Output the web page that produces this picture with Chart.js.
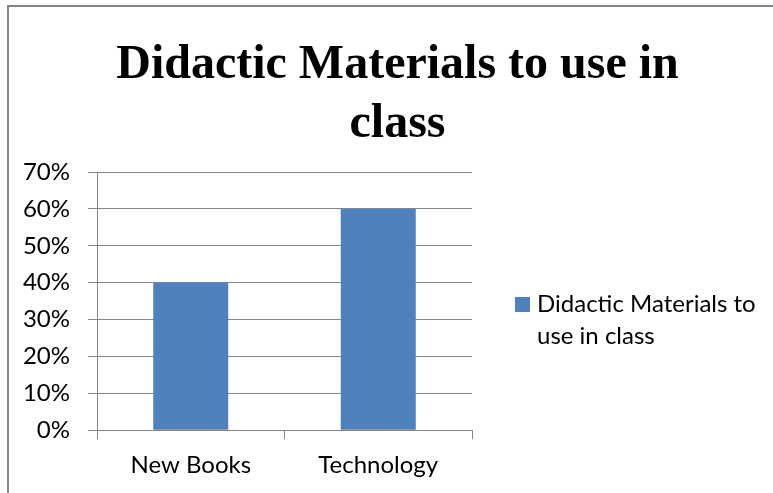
<!DOCTYPE html>
<html>
<head>
<meta charset="utf-8">
<script src="https://cdn.jsdelivr.net/npm/chart.js@4/dist/chart.umd.min.js"></script>
<style>
  html, body { margin: 0; padding: 0; background: #fff; }
  #wrap { width: 773px; height: 493px; position: relative; }
</style>
</head>
<body>
<div id="wrap"><canvas id="c"></canvas></div>
<script>
const titleLines = ['Didactic Materials to use in', 'class'];
const categories = ['New Books', 'Technology'];
const seriesLabel = 'Didactic Materials to use in class';
const seriesValues = [40, 60];
const yTickMax = 70;
const yTickStep = 10;

const GRAY = '#868686';
const BLUE = '#4F81BD';
const TICK_FONT = { family: 'Lato', size: 24 };

const frameAndLegend = {
  id: 'frameAndLegend',
  beforeDraw(chart) {
    const ctx = chart.ctx;
    ctx.save();
    ctx.strokeStyle = GRAY;
    ctx.lineWidth = 2;
    ctx.beginPath();
    ctx.moveTo(8, 493);
    ctx.lineTo(8, 6);
    ctx.lineTo(773, 6);
    ctx.stroke();
    ctx.restore();
  },
  afterDraw(chart) {
    const ctx = chart.ctx;
    const ds = chart.data.datasets[0];
    ctx.save();
    ctx.font = '24px Lato';
    const words = ds.label.split(' ');
    const maxW = 230;
    const lines = [];
    let cur = '';
    words.forEach(w => {
      const t = cur ? cur + ' ' + w : w;
      if (ctx.measureText(t).width > maxW && cur) { lines.push(cur); cur = w; }
      else cur = t;
    });
    if (cur) lines.push(cur);
    const x0 = chart.chartArea.right + 43;
    const y0 = 304;
    ctx.fillStyle = ds.backgroundColor;
    ctx.fillRect(x0, y0 - 7, 15, 15);
    ctx.fillStyle = '#000';
    ctx.textBaseline = 'middle';
    ctx.textAlign = 'left';
    lines.forEach((l, i) => ctx.fillText(l, x0 + 22, y0 + i * 32));
    ctx.restore();
  }
};

new Chart(document.getElementById('c'), {
  type: 'bar',
  data: {
    labels: categories,
    datasets: [{
      label: seriesLabel,
      data: seriesValues,
      backgroundColor: BLUE,
      borderWidth: 0,
      categoryPercentage: 1,
      barPercentage: 0.4
    }]
  },
  options: {
    responsive: true,
    maintainAspectRatio: false,
    animation: false,
    layout: { padding: { left: 22, top: 0, bottom: 1, right: 0 } },
    plugins: {
      legend: { display: false },
      tooltip: { enabled: false },
      title: {
        display: true,
        text: titleLines,
        color: '#000',
        font: { family: 'Liberation Serif', size: 48, weight: 'bold', lineHeight: 1.23 },
        padding: { top: 36, bottom: 18 }
      }
    },
    scales: {
      x: {
        grid: { display: true, drawOnChartArea: false, drawTicks: true, tickLength: 9, color: GRAY, offset: true },
        border: { display: true, color: GRAY, width: 1 },
        ticks: { color: '#000', font: TICK_FONT, padding: 12 }
      },
      y: {
        min: 0,
        max: yTickMax,
        grid: { color: GRAY, tickLength: 9, drawTicks: true },
        border: { display: true, color: GRAY, width: 1 },
        ticks: { stepSize: yTickStep, color: '#000', font: TICK_FONT, padding: 18, callback: v => v + '%' },
        afterFit(s) { s.width = 75; }
      },
      legendSpace: {
        type: 'linear',
        position: 'right',
        display: true,
        grid: { display: false, drawTicks: false },
        border: { display: false },
        ticks: { display: false },
        afterFit(s) { s.width = 301; }
      }
    }
  },
  plugins: [frameAndLegend]
});
</script>
</body>
</html>
